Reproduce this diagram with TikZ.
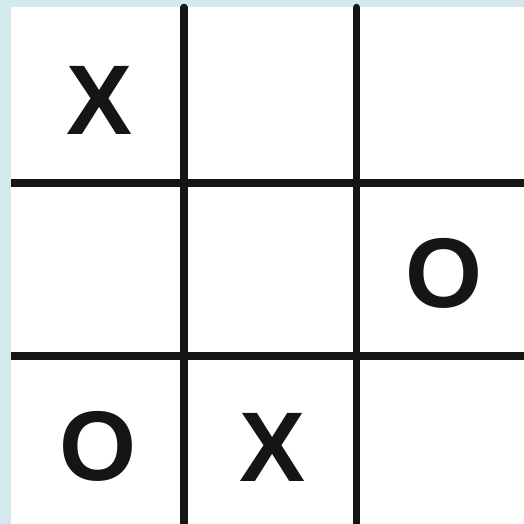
\documentclass[tikz,border=0pt]{standalone}
\usepackage{fontspec}
\setmainfont{Liberation Sans}
\definecolor{bgblue}{HTML}{D3E9EB}
\definecolor{ink}{HTML}{151515}
\begin{document}
\begin{tikzpicture}[x=1pt,y=-1pt,
  gridline/.style={draw=ink,line width=7.5pt,line cap=round},
  piece/.style={text=ink,font=\fontsize{99}{99}\selectfont\bfseries,inner sep=0pt,anchor=center}]
\fill[bgblue] (0,0) rectangle (524,524);
\fill[white] (11,7) rectangle (524,524);
\useasboundingbox (0,0) rectangle (524,524);
\coordinate (v1t) at (184,7.5);
\coordinate (v1b) at (184,530);
\coordinate (v2t) at (356.5,7.5);
\coordinate (v2b) at (356.5,530);
\coordinate (h1l) at (11,183);
\coordinate (h1r) at (530,183);
\coordinate (h2l) at (11,356);
\coordinate (h2r) at (530,356);
\draw[gridline] (v1t) -- (v1b);
\draw[gridline] (v2t) -- (v2b);
\draw[gridline,line cap=butt] (h1l) -- (h1r);
\draw[gridline,line cap=butt] (h2l) -- (h2r);
\node[piece] (x1) at (100,100) {X};
\node[piece] (o1) at (444,273.5) {O};
\node[piece] (o2) at (98.5,446.5) {O};
\node[piece] (x2) at (272.5,447) {X};
\end{tikzpicture}
\end{document}
